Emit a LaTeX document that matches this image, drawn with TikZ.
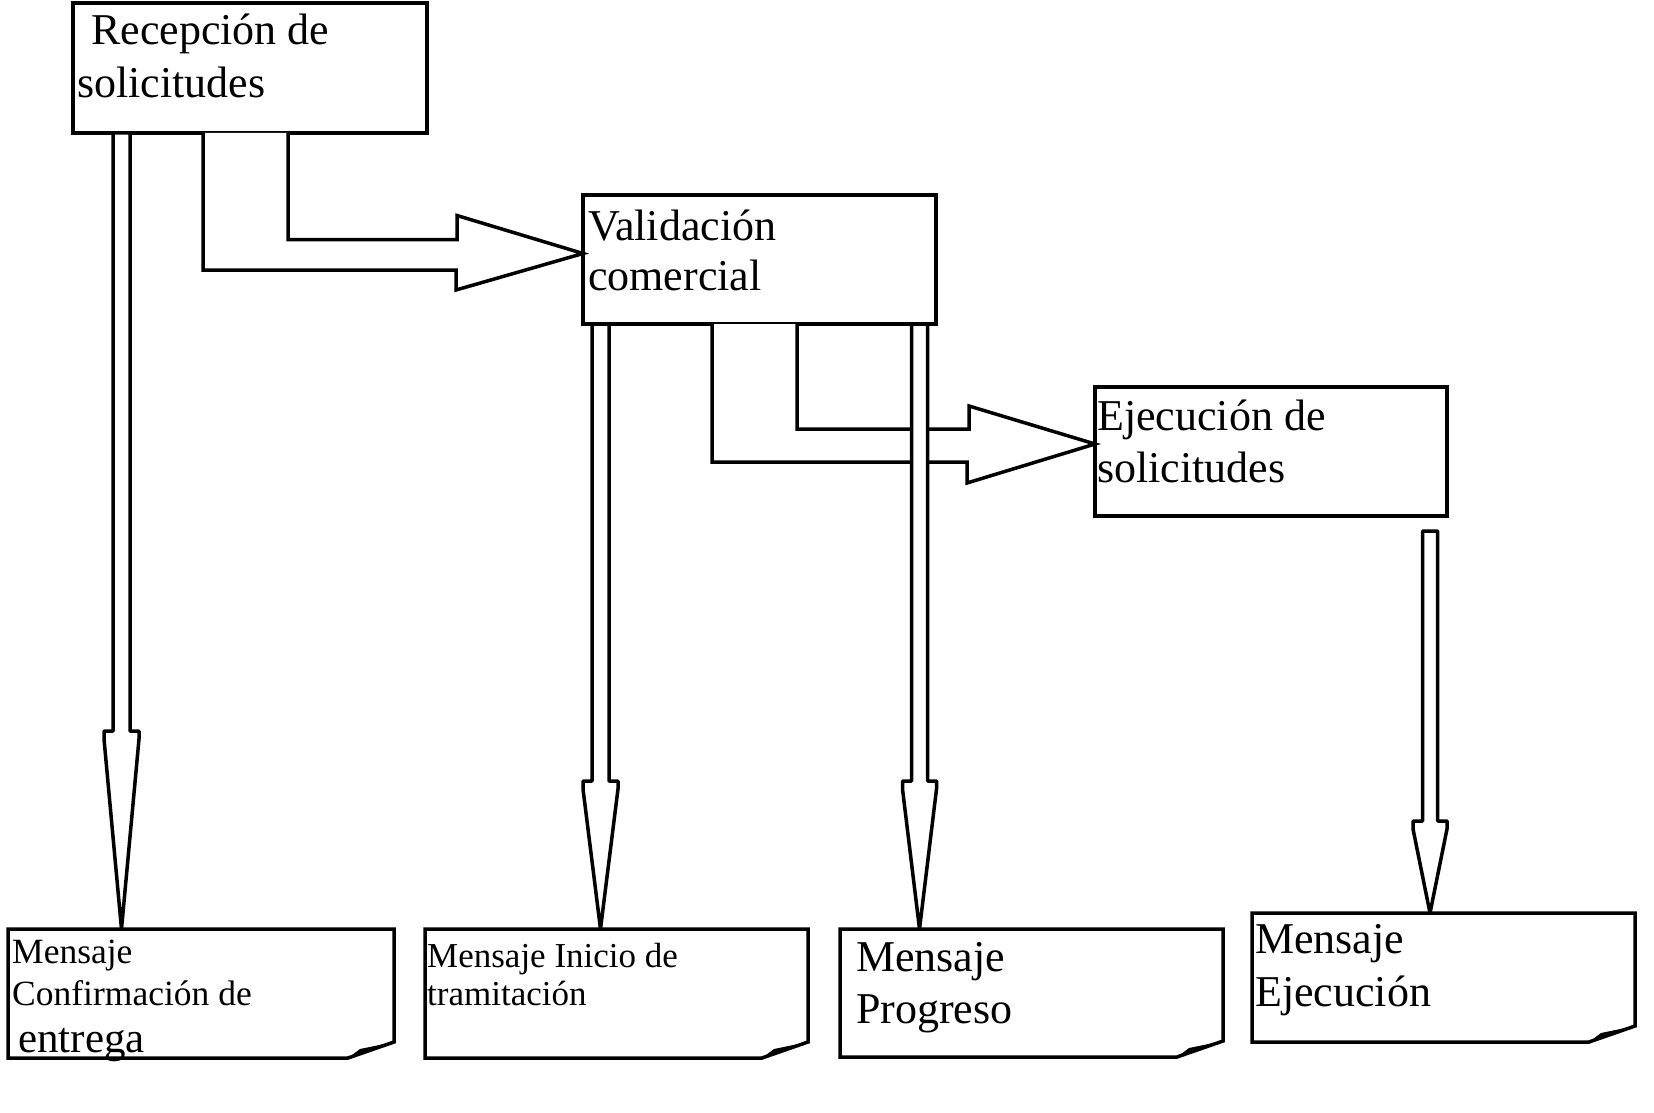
\documentclass[tikz,border=0pt]{standalone}
\usepackage{fontspec}
\setmainfont{Liberation Serif}
\usetikzlibrary{calc}

\tikzset{
  procbox/.style={draw,line width=3.5pt,inner sep=0pt,outer sep=0pt,anchor=north west,
    minimum width=353pt,minimum height=129pt},
  msgbox/.style={inner sep=0pt,outer sep=0pt,anchor=north west,
    minimum width=384pt,minimum height=129pt},
  bigtxt/.style={inner sep=0pt,anchor=base west,align=left,font=\fontsize{44}{52}\selectfont},
  smalltxt/.style={inner sep=0pt,anchor=base west,align=left,font=\fontsize{35.5}{41}\selectfont},
  wire/.style={draw,line width=3.5pt,fill=white,line join=miter},
}

% outline of a message with its folded corner
\newcommand\foldbox[1]{%
  \draw[wire] (#1.north west) -- (#1.north east) -- ([yshift=16pt]#1.south east)
    -- ([xshift=-46pt]#1.south east) -- (#1.south west) -- cycle;
  \fill ([xshift=-46pt]#1.south east) -- ([xshift=-34pt,yshift=9pt]#1.south east)
    -- ([yshift=16pt]#1.south east) -- ([xshift=-30pt,yshift=6pt]#1.south east) -- cycle;}

% hollow downward arrow: start, tip, head length, shaft half width, head half width
\newcommand\hollowdown[5]{%
  \draw[wire,line join=round] ([xshift=-#4pt]#1) -- ([xshift=-#4pt,yshift=#3pt]#2)
    -- ([xshift=-#5pt,yshift=#3pt]#2) -- ([xshift=-#5pt,yshift=#3pt-8pt]#2) -- (#2)
    -- ([xshift=#5pt,yshift=#3pt-8pt]#2) -- ([xshift=#5pt,yshift=#3pt]#2)
    -- ([xshift=#4pt,yshift=#3pt]#2) -- ([xshift=#4pt]#1) -- cycle;}

\begin{document}
\begin{tikzpicture}[x=1pt,y=-1pt]
\useasboundingbox (0,0) rectangle (1654,1113);

% procesos
\node[procbox,minimum width=354pt,minimum height=130pt] (recep) at (73,3) {};
\node[procbox] (valid) at (583,195) {};
\node[procbox,minimum width=352pt] (exec) at (1095,387) {};
\node[bigtxt] (recep-t) at ([xshift=4pt,yshift=-95pt]recep.north west)
  {\hspace*{14pt}Recepción de\\[1pt]solicitudes};
\node[bigtxt] (valid-t) at ([xshift=5pt,yshift=-95pt]valid.north west)
  {Validación\\[-2pt]comercial};
\node[bigtxt] (exec-t) at ([xshift=2pt,yshift=-95pt]exec.north west)
  {Ejecución de\\solicitudes};

% mensajes
\node[msgbox,minimum width=386pt] (msgA) at (8,929) {};
\node[msgbox,minimum width=383pt] (msgB) at (425,929) {};
\node[msgbox,minimum width=383pt,minimum height=128pt] (msgC) at (840,929) {};
\node[msgbox,minimum width=383pt] (msgD) at (1252,913) {};
\foldbox{msgA} \foldbox{msgB} \foldbox{msgC} \foldbox{msgD}
\node[smalltxt,font=\fontsize{35.5}{44}\selectfont] (msgA-t) at ([xshift=4pt,yshift=-123pt]msgA.north west)
  {Mensaje\\[-2pt]Confirmación de\\[3pt]\hspace*{6pt}{\fontsize{43}{44}\selectfont entrega}};
\node[smalltxt,font=\fontsize{35}{38}\selectfont] (msgB-t) at ([xshift=2pt,yshift=-76pt]msgB.north west)
  {Mensaje Inicio de\\tramitación};
\node[bigtxt] (msgC-t) at ([xshift=16pt,yshift=-94pt]msgC.north west)
  {Mensaje\\Progreso};
\node[bigtxt,font=\fontsize{44}{53}\selectfont] (msgD-t) at ([xshift=3pt,yshift=-93pt]msgD.north west)
  {Mensaje\\Ejecución};

% flechas en codo
\coordinate (e1a) at ([xshift=130pt]recep.south west);
\coordinate (e1b) at ([xshift=215pt]recep.south west);
\coordinate (e1tip) at ([yshift=6pt]valid.west);
\draw[wire] (e1a) -- ++(0,137) -- ++(253,0) -- ++(0,20) -- (e1tip)
  -- ++(-126,-38) -- ++(0,24) -| (e1b);
\coordinate (e2a) at ([xshift=129pt]valid.south west);
\coordinate (e2b) at ([xshift=214pt]valid.south west);
\coordinate (e2tip) at ([yshift=7.5pt]exec.west);
\draw[wire] (e2a) -- ++(0,138) -- ++(255,0) -- ++(0,21) -- (e2tip)
  -- ++(-126,-38) -- ++(0,23) -| (e2b);

% flechas hacia los mensajes
\coordinate (s1) at ([xshift=48.5pt]recep.south west);
\coordinate (t1) at (s1 |- msgA.north);
\hollowdown{s1}{t1}{198}{8.5}{17.5}
\coordinate (s2) at ([xshift=17.5pt]valid.south west);
\coordinate (t2) at (s2 |- msgB.north);
\hollowdown{s2}{t2}{148}{8.5}{17.5}
\coordinate (s3) at ([xshift=-16.5pt]valid.south east);
\coordinate (t3) at (s3 |- msgC.north);
\hollowdown{s3}{t3}{148}{8}{17}
\coordinate (s4) at ([xshift=-17pt,yshift=-15pt]exec.south east);
\coordinate (t4) at (s4 |- msgD.north);
\hollowdown{s4}{t4}{92}{7.5}{17}
\end{tikzpicture}
\end{document}
